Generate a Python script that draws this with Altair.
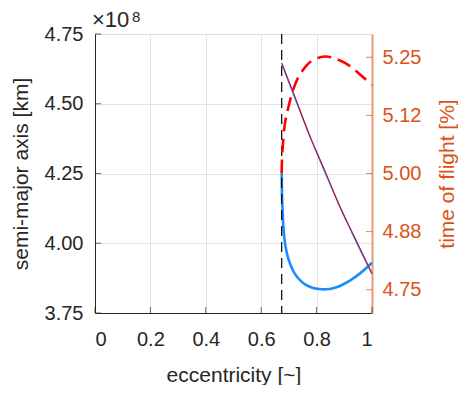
import altair as alt
import pandas as pd

# ---- data ----
ecc_min = [0.674]

blue_e = [0.674, 0.675, 0.677, 0.680, 0.686, 0.695, 0.706, 0.72, 0.74, 0.76, 0.788, 0.81, 0.836, 0.86, 0.884, 0.92, 0.957, 1.0]
blue_a = [4.25, 4.18, 4.12, 4.06, 4.00, 3.955, 3.922, 3.893, 3.868, 3.852, 3.840, 3.836, 3.835, 3.839, 3.847, 3.866, 3.892, 3.93]

red_e = [0.674, 0.675, 0.678, 0.686, 0.698, 0.716, 0.740, 0.782, 0.83, 0.872, 0.921, 0.957, 1.0]
red_t = [5.00, 5.03, 5.06, 5.109, 5.142, 5.181, 5.213, 5.242, 5.2515, 5.246, 5.231, 5.213, 5.19]

thin_e = [0.674, 0.72, 0.775, 0.832, 0.885, 0.939, 1.0]
thin_a = [4.644, 4.524, 4.386, 4.250, 4.130, 4.014, 3.890]
thin_t = [5.238, 5.168, 5.081, 5.003, 4.927, 4.861, 4.785]

x_ticks = [0, 0.2, 0.4, 0.6, 0.8, 1.0]
a_ticks = [3.75, 4.00, 4.25, 4.50, 4.75]
t_ticks = [4.75, 4.875, 5.00, 5.125, 5.25]

FONT = "Liberation Sans"
DARK = "#262626"
ORANGE = "#D95319"
BLUE = "#1A8CFF"
RED = "#FF0000"
GRID = "#e3e3e3"

df_blue = pd.DataFrame({"e": blue_e, "a": blue_a, "i": range(len(blue_e))})
df_red = pd.DataFrame({"e": red_e, "t": red_t, "i": range(len(red_e))})
df_thin = pd.DataFrame({"e": thin_e, "a": thin_a, "t": thin_t, "i": range(len(thin_e))})
df_v = pd.DataFrame({"e": ecc_min})
df_xt = pd.DataFrame({"e": x_ticks})
df_at = pd.DataFrame({"a": a_ticks})
df_tt = pd.DataFrame({"t": t_ticks})

xscale = alt.Scale(domain=[0, 1], nice=False, zero=False)
ascale = alt.Scale(domain=[3.75, 4.75], nice=False, zero=False)
tscale = alt.Scale(domain=[4.70, 5.30], nice=False, zero=False)

x_axis = alt.Axis(values=x_ticks, format="~g", title="eccentricity [~]", grid=True,
                  gridColor=GRID,
                  gridOpacity={"condition": {"test": "datum.value >= 0.99", "value": 0}, "value": 1},
                  domainColor=DARK, labelColor=DARK, titleColor=DARK,
                  labelFont=FONT, titleFont=FONT, labelFontSize=20, titleFontSize=21,
                  titleFontWeight="normal", ticks=False, labelPadding=16,
                  titleX=138.5, titleY=62, titleBaseline="middle", titleAlign="center")
a_axis = alt.Axis(values=a_ticks, format=".2f", title="semi-major axis [km]", grid=True,
                  gridColor=GRID,
                  gridOpacity={"condition": {"test": "datum.value >= 4.7", "value": 0}, "value": 1},
                  domainColor=DARK, labelColor=DARK, titleColor=DARK,
                  labelFont=FONT, titleFont=FONT, labelFontSize=20, titleFontSize=21,
                  titleFontWeight="normal", ticks=False, labelPadding=12,
                  titleX=-74, titleY=139.5, titleAngle=270, titleBaseline="middle", titleAlign="center")
t_axis = alt.Axis(values=t_ticks, orient="right", title="time of flight [%]", grid=False,
                  labelExpr="datum.value > 5.1 && datum.value < 5.15 ? '5.12' : format(datum.value, '.2f')",
                  domainColor="#E89A75", domainWidth=2, labelColor=ORANGE, titleColor=ORANGE,
                  labelFont=FONT, titleFont=FONT, labelFontSize=20, titleFontSize=21,
                  titleFontWeight="normal", ticks=False, labelPadding=10,
                  titleX=75, titleY=139.5, titleAngle=270, titleBaseline="middle", titleAlign="center")

X = alt.X("e:Q", scale=xscale, axis=x_axis)
YA = alt.Y("a:Q", scale=ascale, axis=a_axis)
YT = alt.Y("t:Q", scale=tscale, axis=t_axis)

# inward tick marks (MATLAB style)
xticks_in = alt.Chart(df_xt).mark_tick(color=DARK, thickness=1, size=6).encode(
    x=X, y=alt.value(276))
aticks_in = alt.Chart(df_at).mark_tick(color=DARK, thickness=1, size=6).encode(
    y=YA, x=alt.value(3))

blue_thick = alt.Chart(df_blue).mark_line(color=BLUE, strokeWidth=2.6, interpolate="catmull-rom").encode(
    x=X, y=YA, order="i:O")
blue_thin = alt.Chart(df_thin).mark_line(color=BLUE, strokeWidth=1.4, interpolate="monotone").encode(
    x=X, y=YA, order="i:O")
vline = alt.Chart(df_v).mark_rule(color="black", strokeWidth=1.2, strokeDash=[10, 6]).encode(x=X)
exp_main = alt.Chart(df_v).mark_text(text="×10", align="left", baseline="alphabetic",
                                     font=FONT, fontSize=22, color=DARK).encode(
    x=alt.value(-3), y=alt.value(-7))
exp_sup = alt.Chart(df_v).mark_text(text="8", align="left", baseline="alphabetic",
                                    font=FONT, fontSize=15, color=DARK).encode(
    x=alt.value(37), y=alt.value(-12))

left = alt.layer(xticks_in, aticks_in, blue_thick, blue_thin, vline, exp_main, exp_sup)

tticks_in = alt.Chart(df_tt).mark_tick(color=ORANGE, thickness=1, size=6).encode(
    y=YT, x=alt.value(274))
red_dash = alt.Chart(df_red).mark_line(color=RED, strokeWidth=2.6, strokeDash=[14, 7],
                                       interpolate="catmull-rom").encode(
    x=X, y=YT, order="i:O")
red_thin = alt.Chart(df_thin).mark_line(color="#C8102E", strokeWidth=1.1, interpolate="monotone").encode(
    x=X, y=YT, order="i:O")

right = alt.layer(tticks_in, red_dash, red_thin)

chart = alt.layer(left, right).resolve_scale(y="independent").properties(
    width=277, height=279,
    autosize=alt.AutoSizeParams(type="none"),
    padding={"left": 87, "top": 26, "right": 86, "bottom": 72},
).configure_view(stroke=None).configure(background="white")

chart.save("out.html", embed_options={"renderer": "svg", "actions": False})
